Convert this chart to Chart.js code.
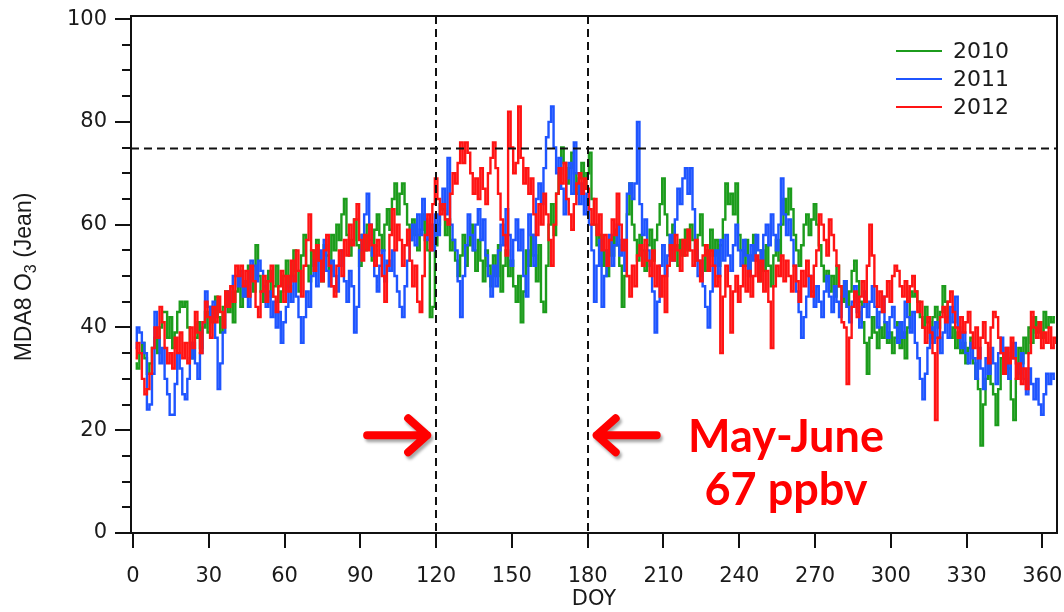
<!DOCTYPE html>
<html>
<head>
<meta charset="utf-8">
<script src="https://cdn.jsdelivr.net/npm/chart.js@4.4.1/dist/chart.umd.min.js"></script>
<style>
  html, body { margin: 0; padding: 0; background: #fff; }
  #wrap { width: 1064px; height: 612px; }
</style>
</head>
<body>
<div id="wrap"><canvas id="c" width="1064" height="612"></canvas></div>
<script>
// MDA8 ozone at Jean, one value per day of year
const years = ['2010', '2011', '2012'];
const lineColors = ['#1c9c1c', '#1f55ff', '#ff1414'];

const o3_2010 = [
  33, 32, 35, 37, 34, 31, 33, 36, 38, 35,
  40, 43, 43, 38, 42, 36, 39, 43, 45, 44,
  45, 40, 37, 34, 38, 41, 36, 40, 43, 39,
  44, 41, 46, 42, 39, 44, 47, 43, 45, 41,
  47, 50, 44, 48, 46, 52, 49, 47, 56, 50,
  47, 45, 49, 51, 46, 48, 52, 45, 47, 50,
  53, 48, 50, 55, 51, 47, 54, 58, 52, 49,
  55, 52, 57, 53, 49, 56, 54, 51, 58, 55,
  60, 57, 62, 65, 58, 54, 57, 61, 56, 52,
  58, 55, 60, 57, 53, 59, 62, 58, 55, 60,
  63, 59, 65, 68, 62, 66, 68, 64, 60, 57,
  61, 58, 55, 59, 62, 57, 55, 42, 44, 56,
  60, 64, 63, 58, 61, 55, 57, 53, 50, 54,
  58, 52, 56, 60, 55, 51, 57, 53, 49, 55,
  52, 48, 54, 50, 56, 47, 52, 55, 50, 53,
  48, 45, 50, 41, 47, 55, 52, 58, 54, 49,
  56, 45, 43, 52, 60, 64, 58, 66, 70, 75,
  72, 68, 71, 74, 70, 66, 69, 72, 67, 70,
  74, 65, 60, 56, 58, 52, 55, 50, 57, 54,
  59, 56, 52, 44, 50, 62, 68, 60, 57, 53,
  58, 55, 51, 56, 59, 53, 57, 60, 64, 69,
  62, 58, 55, 60, 56, 52, 57, 54, 59, 55,
  60, 57, 53, 58, 62, 56, 51, 55, 59, 54,
  57, 52, 56, 61, 68, 64, 66, 62, 68, 58,
  55, 52, 57, 50, 54, 58, 53, 49, 55, 51,
  56, 52, 48, 54, 57, 53, 60, 65, 62, 67,
  63, 58, 55, 52, 56, 60, 62, 58, 61, 64,
  60, 56, 52, 49, 51, 47, 50, 46, 52, 48,
  45, 49, 44, 47, 51, 53, 49, 45, 41, 37,
  31, 38, 42, 39, 36, 40, 38, 41, 37, 39,
  35, 38, 41, 36, 39, 34, 40, 47, 46, 47,
  45, 42, 40, 44, 41, 38, 42, 44, 40, 43,
  48, 45, 42, 38, 40, 36, 39, 35, 37, 33,
  36, 38, 33, 30, 28, 17, 25, 30, 33, 29,
  27, 21, 28, 34, 31, 35, 32, 26, 22, 30,
  36, 33, 38, 35, 40, 37, 42, 39, 41, 38,
  43, 40, 42, 41, 42
];

const o3_2011 = [
  36, 40, 39, 37, 35, 24, 25, 31, 43, 38,
  33, 36, 30, 27, 23, 23, 29, 35, 32, 27,
  26, 30, 34, 37, 33, 30, 35, 41, 47, 44,
  42, 45, 38, 28, 33, 39, 44, 47, 45, 50,
  50, 48, 51, 46, 49, 44, 53, 52, 49, 53,
  51, 48, 44, 47, 42, 45, 40, 43, 37, 41,
  44, 48, 45, 50, 46, 42, 37, 42, 47, 44,
  50, 53, 48, 55, 52, 57, 51, 48, 53, 50,
  47, 52, 55, 49, 45, 51, 48, 39, 44, 55,
  58, 62, 66, 60, 54, 50, 47, 52, 55, 49,
  53, 51, 55, 50, 47, 44, 42, 48, 53, 57,
  60, 56, 62, 58, 65, 61, 57, 60, 55, 62,
  58, 64, 67, 62, 73, 60, 57, 55, 49, 42,
  50, 56, 62, 58, 55, 60, 63, 57, 61, 54,
  50, 46, 52, 48, 55, 60, 56, 63, 58, 52,
  57, 61, 55, 59, 50, 46, 62, 58, 52, 65,
  68, 64, 71, 77, 80, 83, 75, 70, 73, 67,
  62, 69, 72, 66, 76, 70, 64, 68, 62, 66,
  60, 55, 45, 52, 57, 44, 50, 55, 58, 52,
  56, 60, 54, 57, 51, 66, 68, 65, 68, 80,
  64, 58, 61, 55, 52, 47, 39, 45, 52, 56,
  50, 54, 58, 53, 61, 67, 64, 69, 71, 66,
  71, 63, 55, 50, 53, 48, 44, 40, 47, 52,
  55, 50, 57, 53, 58, 54, 51, 56, 60, 55,
  52, 57, 54, 50, 56, 53, 58, 55, 52, 58,
  60, 56, 62, 58, 55, 60, 69, 62, 58, 61,
  57, 52, 47, 43, 38, 42, 46, 50, 47, 44,
  48, 45, 42, 47, 50, 46, 43, 48, 45, 42,
  46, 49, 44, 41, 45, 48, 43, 40, 44, 47,
  42, 45, 48, 44, 40, 43, 46, 41, 38, 42,
  44, 40, 37, 41, 38, 45, 42, 39, 43, 37,
  34, 30, 26, 31, 36, 40, 37, 41, 38, 35,
  39, 42, 38, 44, 41, 46, 40, 36, 39, 35,
  33, 37, 34, 30, 36, 32, 28, 34, 31, 36,
  33, 29, 35, 38, 32, 36, 30, 34, 37, 33,
  31, 35, 30, 27, 32, 29, 26, 30, 25, 23,
  27, 31, 29, 31, 30
];

const o3_2012 = [
  34, 37, 35, 30, 27, 28, 31, 36, 40, 38,
  44, 41, 36, 33, 35, 32, 38, 35, 39, 34,
  37, 33, 40, 36, 43, 39, 35, 41, 45, 42,
  38, 44, 41, 46, 43, 40, 47, 44, 48, 45,
  52, 50, 52, 48, 51, 46, 52, 49, 44, 42,
  47, 50, 45, 49, 52, 46, 43, 48, 51, 45,
  50, 47, 53, 49, 55, 51, 46, 52, 57, 62,
  55, 51, 56, 53, 49, 55, 58, 52, 48, 46,
  52, 55, 50, 57, 54, 60, 56, 61, 64, 57,
  53, 58, 55, 60, 56, 52, 57, 54, 50, 45,
  52, 58, 63, 55, 60, 57, 52, 56, 59, 53,
  48, 52, 45, 43, 50, 58, 62, 55, 64, 69,
  65, 62, 64, 61, 60, 66, 70, 68, 72, 76,
  72, 76, 74, 70, 66, 69, 65, 71, 67, 64,
  70, 73, 76, 71, 66, 61, 58, 54, 82, 75,
  70, 72, 83, 73, 68, 71, 66, 69, 62, 58,
  64, 60, 66, 62, 57, 52, 60, 66, 71, 68,
  72, 65, 62, 59, 64, 68, 70, 66, 69, 67,
  63, 60, 65, 58, 62, 55, 58, 52, 57, 61,
  58, 66, 60, 55, 57, 50, 46, 52, 48, 54,
  56, 52, 57, 53, 50, 55, 48, 52, 46, 50,
  43, 52, 56, 53, 58, 55, 51, 57, 54, 59,
  55, 52, 57, 53, 49, 54, 56, 51, 55, 52,
  48, 50, 35, 46, 52, 48, 39, 47, 50, 45,
  48, 52, 47, 51, 46, 50, 54, 49, 53, 47,
  51, 45, 36, 48, 52, 50, 54, 49, 53, 50,
  47, 52, 49, 45, 51, 48, 53, 50, 46, 52,
  55, 62, 60, 57, 54, 61, 58, 55, 52, 48,
  41, 40, 29, 38, 44, 47, 42, 46, 49, 45,
  52, 60, 54, 48, 44, 47, 43, 46, 49, 45,
  50, 52, 51, 48, 46, 49, 45, 48, 50, 47,
  43, 45, 40, 37, 42, 39, 35, 22, 38, 42,
  44, 41, 45, 47, 43, 40, 38, 42, 39, 41,
  43, 39, 36, 40, 34, 38, 41, 37, 33, 40,
  43, 42, 38, 35, 31, 36, 33, 38, 34, 30,
  33, 29, 32, 28, 35, 43, 40, 38, 41, 36,
  39, 37, 40, 36, 38, 37
];

const xTicks = [0, 30, 60, 90, 120, 150, 180, 210, 240, 270, 300, 330, 360];
const yTicks = [0, 20, 40, 60, 80, 100];
const standardLevel = 75;       // horizontal dashed line
const mayJune = [120, 180];     // vertical dashed lines
const noteLines = ['May-June', '67 ppbv'];

const series = [o3_2010, o3_2011, o3_2012];

Chart.defaults.font.family = '"DejaVu Sans", sans-serif';
Chart.defaults.color = '#1a1a1a';

// frame, ticks, reference lines, legend and the red note
const extras = {
  id: 'extras',
  afterDatasetsDraw(chart) {
    const { ctx, chartArea: a, scales } = chart;
    const xs = scales.x, ys = scales.y;
    ctx.save();

    // dashed reference lines
    ctx.strokeStyle = '#111';
    ctx.lineWidth = 2;
    ctx.setLineDash([8, 5]);
    const y75 = Math.round(ys.getPixelForValue(standardLevel)) + 0.5;
    ctx.beginPath();
    ctx.moveTo(a.left, y75); ctx.lineTo(a.right, y75);
    mayJune.forEach(d => {
      const px = Math.round(xs.getPixelForValue(d));
      ctx.moveTo(px, a.top); ctx.lineTo(px, a.bottom);
    });
    ctx.stroke();
    ctx.setLineDash([]);

    // box
    ctx.lineWidth = 2;
    ctx.strokeStyle = '#111';
    ctx.strokeRect(a.left, a.top, a.right - a.left, a.bottom - a.top);

    // y ticks, major every 20, minor every 5
    ctx.beginPath();
    for (let v = 0; v <= 100; v += 5) {
      const py = Math.round(ys.getPixelForValue(v));
      const len = v % 20 === 0 ? 16 : 9;
      ctx.moveTo(a.left - len, py); ctx.lineTo(a.left, py);
    }
    xTicks.forEach(d => {
      const px = Math.round(xs.getPixelForValue(d));
      ctx.moveTo(px, a.bottom); ctx.lineTo(px, a.bottom + 15);
    });
    ctx.stroke();

    // legend
    ctx.font = '22px "DejaVu Sans", sans-serif';
    ctx.textBaseline = 'middle';
    ctx.textAlign = 'left';
    chart.data.datasets.forEach((ds, i) => {
      const ly = 51 + i * 28;
      ctx.strokeStyle = ds.borderColor;
      ctx.lineWidth = 2;
      ctx.beginPath();
      ctx.moveTo(896, ly); ctx.lineTo(942, ly);
      ctx.stroke();
      ctx.fillStyle = '#1a1a1a';
      ctx.fillText(ds.label, 953, ly + 1);
    });

    // y axis title with subscript
    ctx.save();
    ctx.translate(31, 277);
    ctx.rotate(-Math.PI / 2);
    ctx.fillStyle = '#1a1a1a';
    const bigFont = '23px "Liberation Sans", Arial, sans-serif';
    const smallFont = '16px "Liberation Sans", Arial, sans-serif';
    ctx.font = bigFont;
    const p1 = 'MDA8 O', p3 = ' (Jean)';
    const w1 = ctx.measureText(p1).width, w3 = ctx.measureText(p3).width;
    ctx.font = smallFont;
    const w2 = ctx.measureText('3').width;
    let sx = -(w1 + w2 + w3) / 2;
    ctx.textAlign = 'left';
    ctx.textBaseline = 'alphabetic';
    ctx.font = bigFont;
    ctx.fillText(p1, sx, 0);
    ctx.font = smallFont;
    ctx.fillText('3', sx + w1, 5);
    ctx.font = bigFont;
    ctx.fillText(p3, sx + w1 + w2, 0);
    ctx.restore();

    // red arrows pointing at the May-June window
    const ay = ys.getPixelForValue(19);
    const tipL = xs.getPixelForValue(mayJune[0]) - 9;
    const tipR = xs.getPixelForValue(mayJune[1]) + 9;
    ctx.save();
    ctx.shadowColor = 'rgba(0,0,0,0.35)';
    ctx.shadowOffsetX = 2;
    ctx.shadowOffsetY = 3;
    ctx.shadowBlur = 3;
    ctx.strokeStyle = '#ff0000';
    ctx.lineWidth = 8;
    ctx.lineCap = 'round';
    ctx.lineJoin = 'round';
    ctx.beginPath();
    ctx.moveTo(tipL - 60, ay); ctx.lineTo(tipL, ay);
    ctx.moveTo(tipL - 19, ay - 17); ctx.lineTo(tipL, ay); ctx.lineTo(tipL - 19, ay + 17);
    ctx.moveTo(tipR + 60, ay); ctx.lineTo(tipR, ay);
    ctx.moveTo(tipR + 19, ay - 17); ctx.lineTo(tipR, ay); ctx.lineTo(tipR + 19, ay + 17);
    ctx.stroke();
    ctx.restore();

    // note text
    ctx.fillStyle = '#ff0000';
    ctx.font = 'bold 45px Lato, "Open Sans", sans-serif';
    ctx.textAlign = 'center';
    ctx.textBaseline = 'alphabetic';
    ctx.fillText(noteLines[0], 786, 452);
    ctx.fillText(noteLines[1], 786, 505);

    ctx.restore();
  }
};

new Chart(document.getElementById('c'), {
  type: 'line',
  data: {
    datasets: series.map((vals, i) => ({
      label: years[i],
      data: vals.map((v, k) => ({ x: k + 1, y: v })),
      borderColor: lineColors[i],
      borderWidth: 2.4,
      stepped: 'middle',
      pointRadius: 0,
      fill: false,
      order: 2 - i
    }))
  },
  options: {
    responsive: false,
    animation: false,
    devicePixelRatio: 1,
    layout: { padding: { top: 16, right: 7, left: 0, bottom: 0 } },
    plugins: { legend: { display: false }, tooltip: { enabled: false } },
    scales: {
      x: {
        type: 'linear',
        min: -0.8,
        max: 365.8,
        afterBuildTicks: s => { s.ticks = xTicks.map(v => ({ value: v })); },
        afterFit: s => { s.height = 79; s.paddingLeft = 0; s.paddingRight = 0; },
        grid: { display: false },
        border: { display: false },
        ticks: { font: { size: 21 }, padding: 23, maxRotation: 0, autoSkip: false },
        title: { display: true, text: 'DOY', font: { size: 21 }, padding: { top: 0, bottom: 0 } }
      },
      y: {
        min: 0,
        max: 100.6,
        afterBuildTicks: s => { s.ticks = yTicks.map(v => ({ value: v })); },
        afterFit: s => { s.width = 131; s.paddingTop = 0; s.paddingBottom = 0; },
        grid: { display: false },
        border: { display: false },
        ticks: { font: { size: 21 }, padding: 16 }
      }
    }
  },
  plugins: [extras]
});
</script>
</body>
</html>
